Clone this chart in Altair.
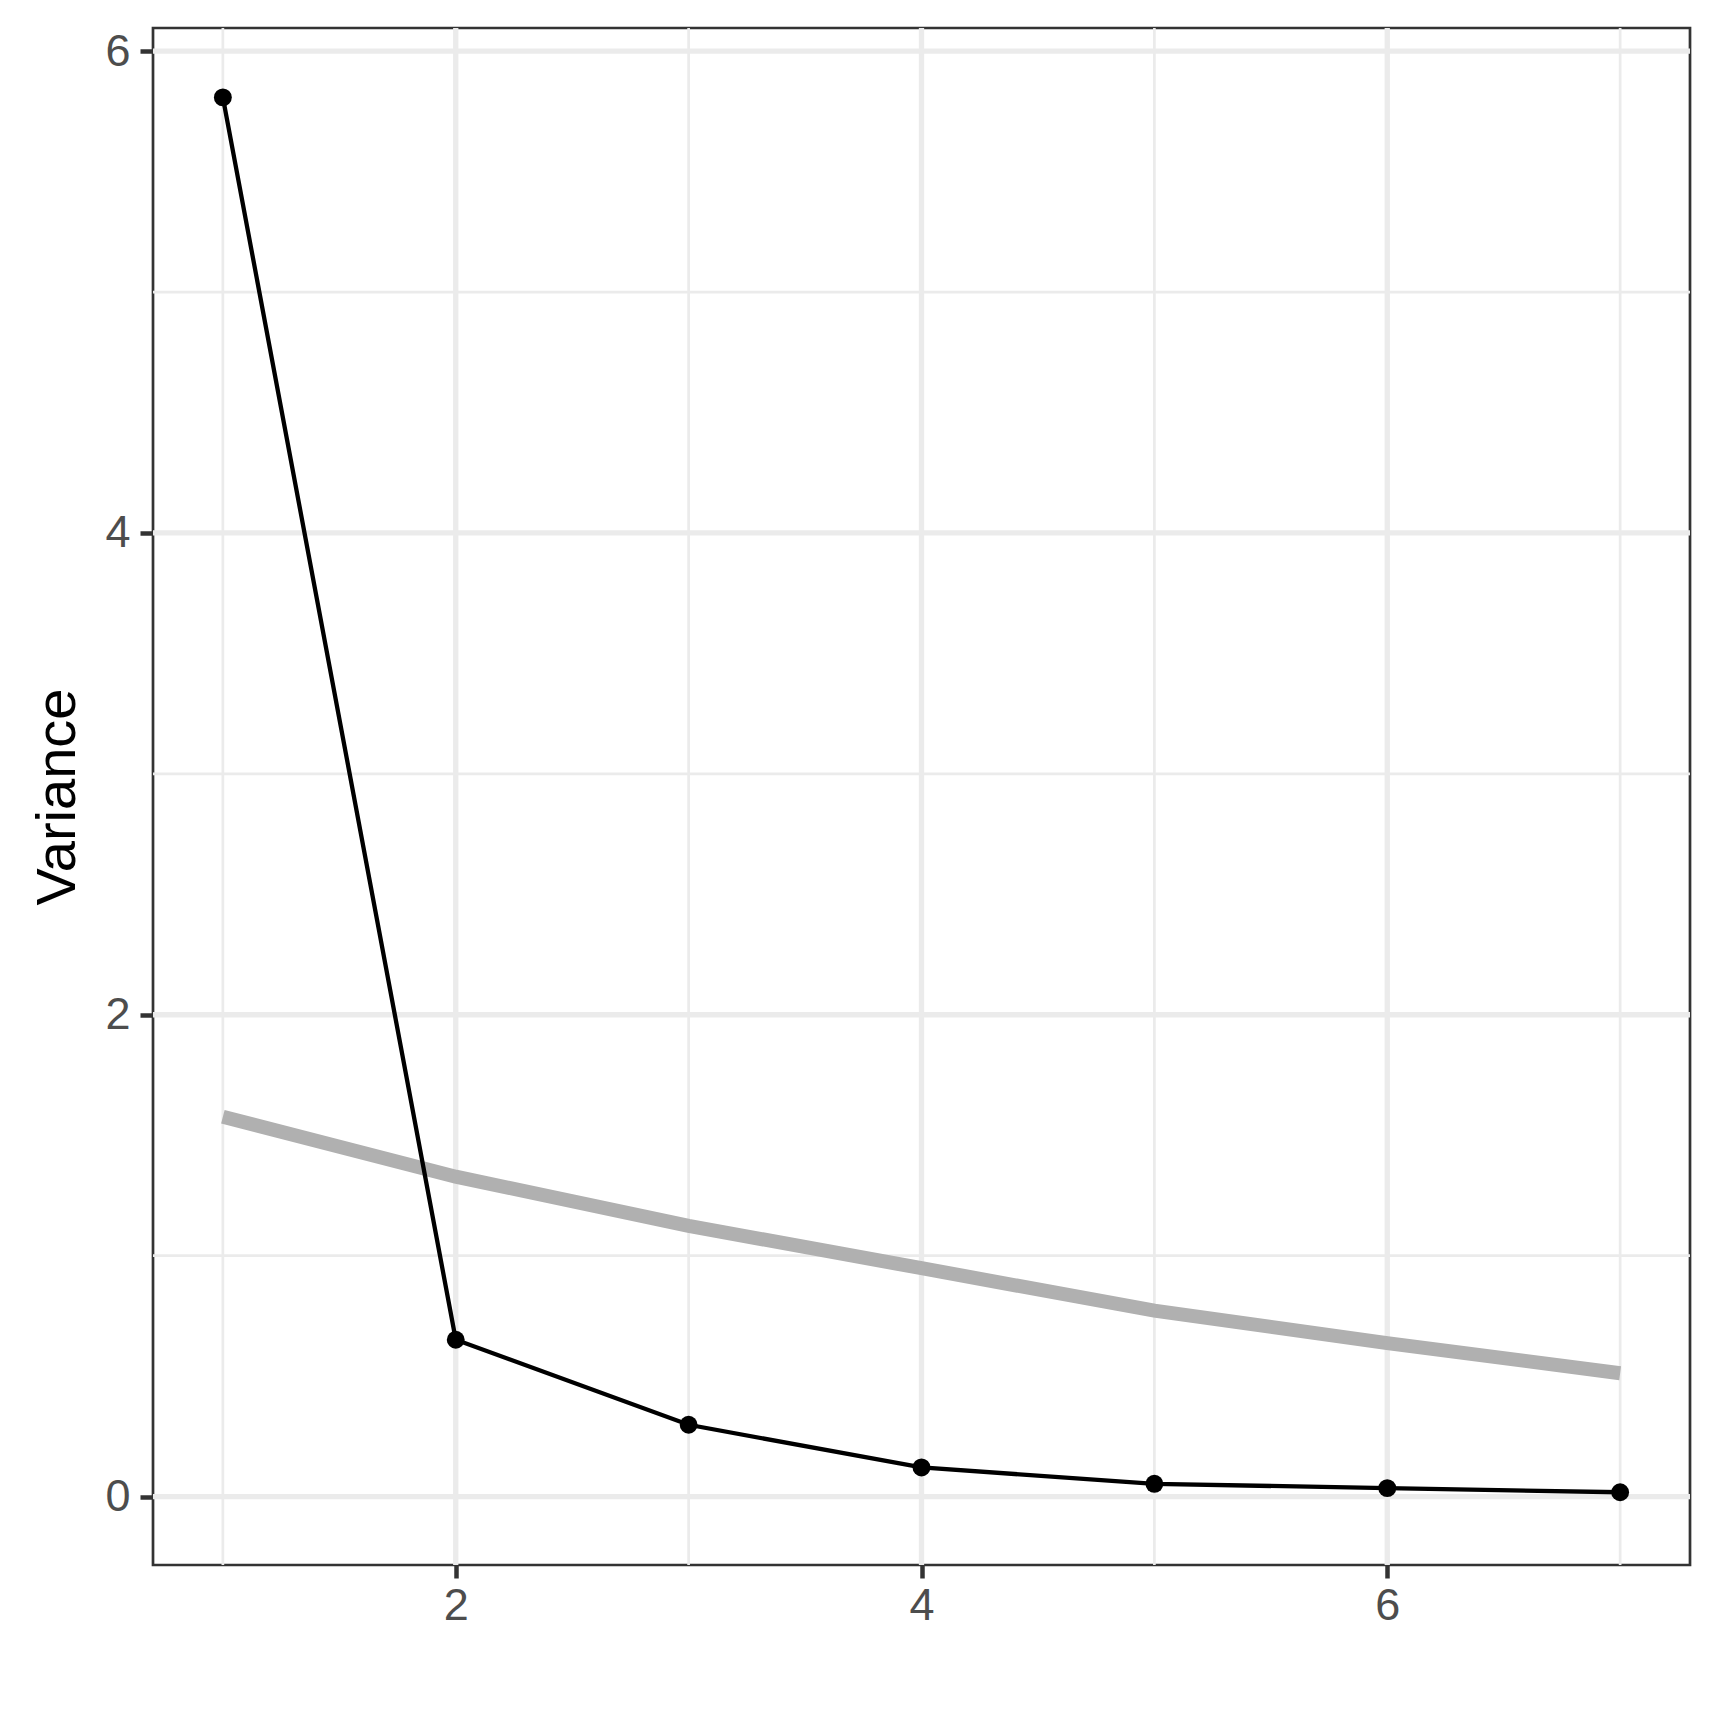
import altair as alt
import pandas as pd

# Data
components = [1, 2, 3, 4, 5, 6, 7]
variance = [5.808, 0.651, 0.298, 0.121, 0.053, 0.035, 0.018]
reference_line = [1.577, 1.328, 1.124, 0.948, 0.772, 0.637, 0.512]

x_major = [2, 4, 6]
x_minor = [1, 3, 5, 7]
y_major = [0, 2, 4, 6]
y_minor = [1, 3, 5]

df = pd.DataFrame({"x": components, "v": variance, "r": reference_line})

XD = [0.7, 7.3]
YD = [-0.284, 6.096]
xs = alt.Scale(domain=XD, nice=False, zero=False)
ys = alt.Scale(domain=YD, nice=False, zero=False)

GRID = "#EBEBEB"

xaxis = alt.Axis(values=x_major, title=None, grid=False, domain=False,
                 labelFontSize=45, labelColor="#4D4D4D", labelFont="Liberation Sans",
                 tickColor="#333333", tickSize=13, tickWidth=4.5, labelPadding=5)
yaxis = alt.Axis(values=y_major, title="Variance", grid=False, domain=False,
                 labelFontSize=45, labelColor="#4D4D4D", labelFont="Liberation Sans",
                 tickColor="#333333", tickSize=13, tickWidth=4.5, labelPadding=10,
                 titleFontSize=56, titleFont="Liberation Sans", titleFontWeight="normal",
                 titleColor="#000000", titlePadding=18)

vminor = alt.Chart(pd.DataFrame({"g": x_minor})).mark_rule(color=GRID, strokeWidth=2.7).encode(
    x=alt.X("g:Q", scale=xs, axis=xaxis))
vmajor = alt.Chart(pd.DataFrame({"g": x_major})).mark_rule(color=GRID, strokeWidth=5.3).encode(
    x=alt.X("g:Q", scale=xs, axis=xaxis))
hminor = alt.Chart(pd.DataFrame({"g": y_minor})).mark_rule(color=GRID, strokeWidth=2.7).encode(
    y=alt.Y("g:Q", scale=ys, axis=yaxis))
hmajor = alt.Chart(pd.DataFrame({"g": y_major})).mark_rule(color=GRID, strokeWidth=5.3).encode(
    y=alt.Y("g:Q", scale=ys, axis=yaxis))

base = alt.Chart(df)
gray = base.mark_line(color="#B0B0B0", strokeWidth=14).encode(
    x=alt.X("x:Q", scale=xs, axis=xaxis),
    y=alt.Y("r:Q", scale=ys, axis=yaxis))
black = base.mark_line(color="#000000", strokeWidth=4.3).encode(
    x=alt.X("x:Q", scale=xs, axis=xaxis), y=alt.Y("v:Q", scale=ys, axis=yaxis))
pts = base.mark_circle(color="#000000", size=320, opacity=1).encode(
    x=alt.X("x:Q", scale=xs, axis=xaxis), y=alt.Y("v:Q", scale=ys, axis=yaxis))

chart = alt.layer(vminor, vmajor, hminor, hmajor, gray, black, pts).properties(
    width=1537, height=1537,
    autosize=alt.AutoSizeParams(type="none"),
    padding={"left": 145, "top": 20, "right": 30, "bottom": 155},
    background="white",
).configure_view(stroke="#333333", strokeWidth=2.7)

chart.save("out.html", embed_options={"renderer": "svg", "actions": False})
